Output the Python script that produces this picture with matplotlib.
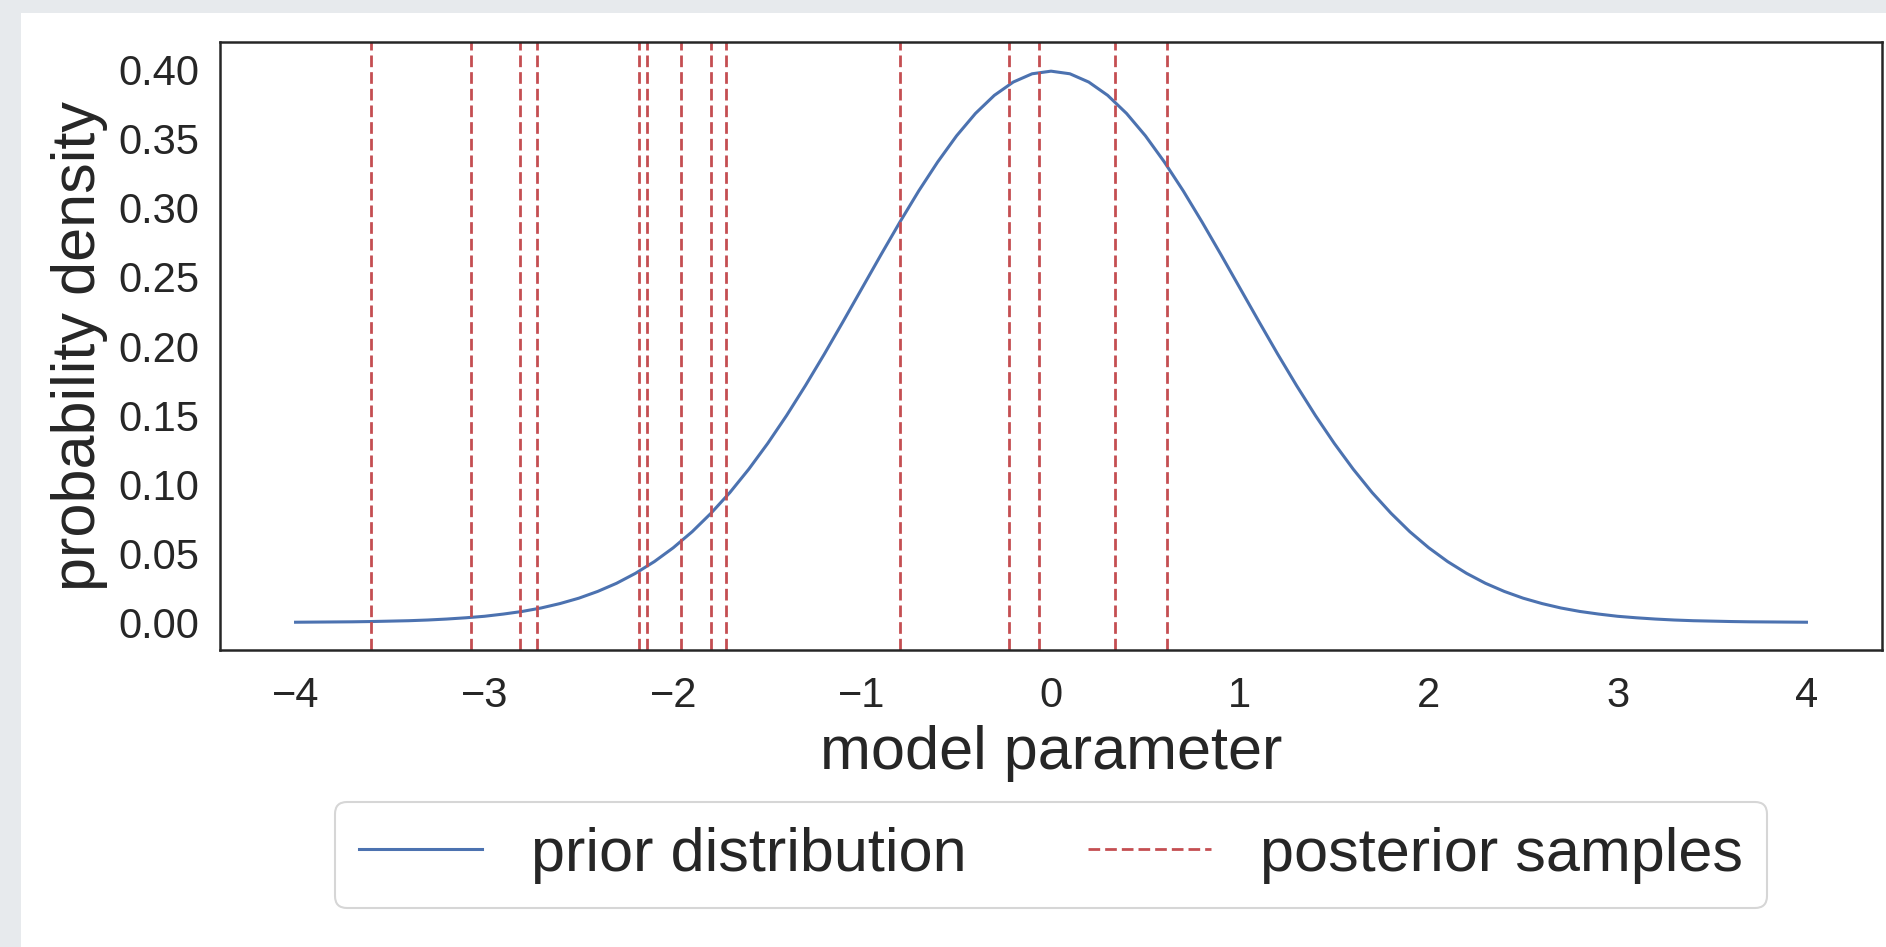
import numpy as np
import matplotlib
matplotlib.use("Agg")
from matplotlib import pyplot as plt
from matplotlib.patches import Rectangle

# prior curve at steps of 0.1 (right half, curve is symmetric)
prior_x = np.linspace(-4, 4, 81)
prior_right = [0.3989, 0.3970, 0.3910, 0.3814, 0.3683, 0.3521, 0.3332, 0.3123,
               0.2897, 0.2661, 0.2420, 0.2179, 0.1942, 0.1714, 0.1497, 0.1295,
               0.1109, 0.0940, 0.0790, 0.0656, 0.0540, 0.0440, 0.0355, 0.0283,
               0.0224, 0.0175, 0.0136, 0.0104, 0.0079, 0.0060, 0.0044, 0.0033,
               0.0024, 0.0017, 0.0012, 0.0009, 0.0006, 0.0004, 0.0003, 0.0002,
               0.0001]
prior_density = prior_right[:0:-1] + prior_right

# posterior samples (vertical dashed lines)
posterior_samples = [-3.60, -3.07, -2.81, -2.72, -2.18, -2.14, -1.96, -1.80,
                     -1.72, -0.80, -0.22, -0.065, 0.34, 0.615]

y_ticks = [0.00, 0.05, 0.10, 0.15, 0.20, 0.25, 0.30, 0.35, 0.40]
x_ticks = [-4, -3, -2, -1, 0, 1, 2, 3, 4]

TEXT = '#262626'
BLUE = '#4C72B0'
RED = '#C44E52'

plt.rcParams['font.family'] = ['Liberation Sans', 'DejaVu Sans']
plt.rcParams['text.color'] = TEXT
plt.rcParams['axes.labelcolor'] = TEXT
plt.rcParams['xtick.color'] = TEXT
plt.rcParams['ytick.color'] = TEXT

fig = plt.figure(figsize=(18.86, 9.47), dpi=100, facecolor='#e7eaed')
fig.patches.append(Rectangle((21/1886, 0), 1, 1 - 13/947, transform=fig.transFigure,
                             facecolor='white', edgecolor='none', zorder=-1))
ax = fig.add_axes([220/1886, 1 - 650/947, (1882-220)/1886, (650-42)/947])

ax.plot(prior_x, prior_density, color=BLUE, lw=2.2, label='prior distribution')
for i, s in enumerate(posterior_samples):
    ax.axvline(s, color=RED, lw=2.0, linestyle=(0, (4.2, 1.8)),
               label='posterior samples' if i == 0 else None)

ax.set_xlim(-4.4, 4.4)
ax.set_ylim(-0.02, 0.42)
ax.set_xticks(x_ticks)
ax.set_yticks(y_ticks)
ax.set_xticklabels([str(t).replace('-', '\u2212') for t in x_ticks])
ax.set_yticklabels(['{:.2f}'.format(t) for t in y_ticks])
ax.tick_params(axis='x', length=0, labelsize=30, pad=19)
ax.tick_params(axis='y', length=0, labelsize=30, pad=15)

for sp in ax.spines.values():
    sp.set_color(TEXT)
    sp.set_linewidth(1.8)

ax.set_xlabel('model parameter', fontsize=44, labelpad=6)
ax.set_ylabel('probability density', fontsize=44, labelpad=7)

leg = ax.legend(loc='upper center', bbox_to_anchor=(0.5, -0.2), ncol=2,
                fontsize=44, frameon=True, fancybox=True)
leg.get_frame().set_edgecolor('#cccccc')
leg.get_frame().set_linewidth(1.5)

fig.savefig('out.png', dpi=100, facecolor=fig.get_facecolor())
